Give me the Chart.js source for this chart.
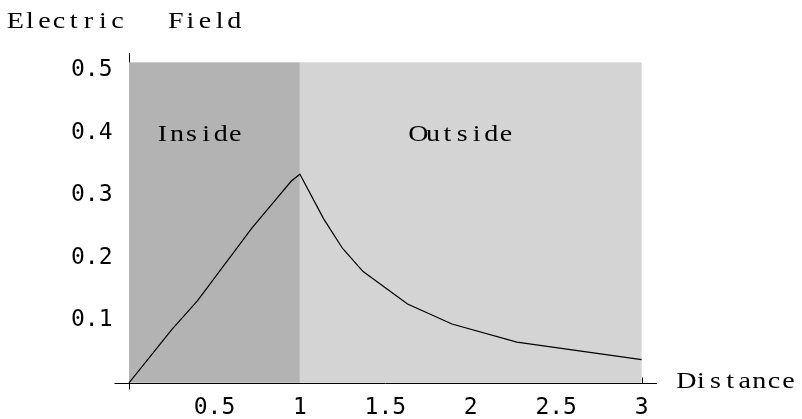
<!DOCTYPE html>
<html>
<head>
<meta charset="utf-8">
<script src="https://cdn.jsdelivr.net/npm/chart.js@4"></script>
<style>
  html, body { margin: 0; padding: 0; background: #fff; }
  #wrap { width: 802px; height: 419px; }
</style>
</head>
<body>
<div id="wrap"><canvas id="fieldChart"></canvas></div>
<script>
// values
const distance = [0, 0.25, 0.40, 0.72, 0.95, 1.0, 1.14, 1.25, 1.37, 1.63, 1.89, 2.27, 3.0];
const field = [0, 0.085, 0.131, 0.248, 0.323, 0.334, 0.262, 0.215, 0.178, 0.126, 0.094, 0.065, 0.037];
const xTicks = [0.5, 1, 1.5, 2, 2.5, 3];
const yTicks = [0.1, 0.2, 0.3, 0.4, 0.5];
// shaded regions: [from, to, colour, label]
const regions = [
  [0, 1, "#b3b3b3", "Inside"],
  [1, 3, "#d4d4d4", "Outside"]
];
const regionTop = 0.513;

const points = [];
for (let i = 0; i < distance.length; i++) {
  points.push({ x: distance[i], y: field[i] });
}

const serif = "'Liberation Serif', 'DejaVu Serif', serif";
const mono = "'DejaVu Sans Mono', monospace";

// courier-like look: widened serif glyphs on a fixed 14.6px grid
function monoText(ctx, str, x, y) {
  const cell = 14.6;
  ctx.textAlign = "center";
  for (let i = 0; i < str.length; i++) {
    ctx.save();
    ctx.translate(x + cell * i + cell / 2, y);
    ctx.scale(1.22, 1);
    ctx.fillText(str[i], 0, 0);
    ctx.restore();
  }
}

const backdrop = {
  id: "backdrop",
  beforeDatasetsDraw(chart) {
    const ctx = chart.ctx;
    const x = chart.scales.x;
    const y = chart.scales.y;
    ctx.save();
    regions.forEach(r => {
      const l = x.getPixelForValue(r[0]);
      const rr = x.getPixelForValue(r[1]);
      const t = y.getPixelForValue(regionTop);
      const b = y.getPixelForValue(0);
      ctx.fillStyle = r[2];
      ctx.fillRect(l, t, rr - l, b - t);
    });
    ctx.strokeStyle = "#000";
    ctx.lineWidth = 1;
    const y0 = Math.round(y.getPixelForValue(0)) + 0.5;
    const x0 = Math.round(x.getPixelForValue(0)) + 0.5;
    ctx.beginPath();
    // x axis
    ctx.moveTo(chart.chartArea.left, y0);
    ctx.lineTo(chart.chartArea.right, y0);
    // y axis, visible above the shading
    ctx.moveTo(x0, chart.chartArea.top);
    ctx.lineTo(x0, y.getPixelForValue(regionTop));
    // little bits of axis ticks that show
    ctx.moveTo(x0, y0);
    ctx.lineTo(x0, y0 + 6);
    const x3 = Math.round(x.getPixelForValue(3)) + 0.5;
    ctx.moveTo(x3, y0);
    ctx.lineTo(x3, y0 - 6);
    ctx.stroke();
    ctx.restore();
  },
  afterDraw(chart) {
    const ctx = chart.ctx;
    const y = chart.scales.y;
    ctx.save();
    ctx.fillStyle = "#000";
    ctx.font = "23px " + serif;
    ctx.textBaseline = "alphabetic";
    monoText(ctx, "Electric   Field", 8, 28);
    monoText(ctx, "Distance", 679, 388);
    const ly = y.getPixelForValue(0.4) + 8;
    monoText(ctx, regions[0][3], 155, ly);
    monoText(ctx, regions[1][3], 411, ly);
    ctx.restore();
  }
};

new Chart(document.getElementById("fieldChart"), {
  type: "line",
  data: {
    datasets: [
      {
        data: points,
        borderColor: "#000",
        borderWidth: 1.2,
        pointRadius: 0,
        tension: 0,
        fill: false
      }
    ]
  },
  options: {
    responsive: true,
    maintainAspectRatio: false,
    animation: false,
    layout: { padding: { top: 53, right: 145, left: 0, bottom: 0 } },
    plugins: {
      legend: { display: false },
      tooltip: { enabled: false }
    },
    scales: {
      x: {
        type: "linear",
        min: -0.085,
        max: 3.09,
        grid: { display: false, drawTicks: false },
        border: { display: false },
        afterBuildTicks(scale) {
          scale.ticks = xTicks.map(v => ({ value: v }));
        },
        afterFit(scale) { scale.height = 30; },
        ticks: {
          color: "#000",
          padding: 5,
          maxRotation: 0,
          autoSkip: false,
          font: { family: mono, size: 23 },
          callback: v => String(v)
        }
      },
      y: {
        type: "linear",
        min: -0.01,
        max: 0.528,
        grid: { display: false, drawTicks: false },
        border: { display: false },
        afterBuildTicks(scale) {
          scale.ticks = yTicks.map(v => ({ value: v }));
        },
        afterFit(scale) { scale.width = 114.5; },
        ticks: {
          color: "#000",
          padding: 2,
          autoSkip: false,
          font: { family: mono, size: 23 },
          callback: v => v.toFixed(1)
        }
      }
    }
  },
  plugins: [backdrop]
});
</script>
</body>
</html>
